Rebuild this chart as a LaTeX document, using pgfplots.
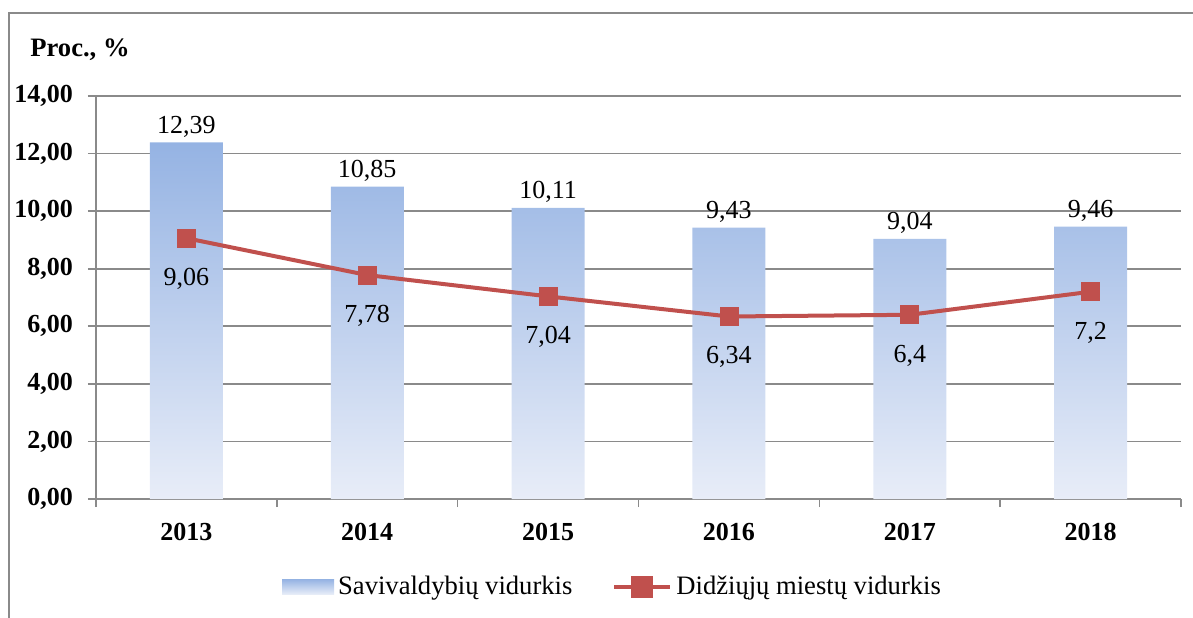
\documentclass[border=0pt]{standalone}
\usepackage{fontspec}
\setmainfont{Liberation Serif}
\usepackage{pgfplots}
\pgfplotsset{compat=1.18}
\definecolor{barTop}{HTML}{95B3E3}
\definecolor{barBot}{HTML}{E8EDF8}
\definecolor{lineRed}{HTML}{C0504D}
\definecolor{gridGray}{HTML}{8A8A8A}
\begin{document}
\begin{tikzpicture}
\path[use as bounding box] (-48pt,-59pt) rectangle (548.5pt,249.5pt);
% outer chart frame (cut off at right and bottom in the reference)
\draw[gridGray, line width=1pt] (-43.5pt,-60pt) -- (-43.5pt,243pt) -- (549pt,243pt);
\node[anchor=west, font=\fontsize{13.3}{15}\selectfont\bfseries, inner sep=0pt] at (-33pt,224.5pt) {Proc., \%};
\begin{axis}[
  at={(0pt,0pt)}, anchor=south west,
  scale only axis, width=542.5pt, height=201.5pt,
  xmin=-0.5, xmax=5.5, ymin=0, ymax=14,
  xtick={-0.5,0.5,...,5.5}, xticklabels={,,,,,,,},
  extra x ticks={0,1,2,3,4,5},
  extra x tick labels={2013,2014,2015,2016,2017,2018},
  extra x tick style={major tick length=0pt,
    tick label style={font=\fontsize{13}{15}\selectfont\bfseries, yshift=-8.5pt}},
  ytick={0,2,...,14},
  axis lines*=left,
  axis line style={gridGray, line width=0.8pt, -},
  ymajorgrids, grid style={gridGray, line width=0.8pt},
  tick style={gridGray, line width=0.8pt},
  tick align=outside, major tick length=4pt,
  yticklabel style={font=\fontsize{13}{15}\selectfont\bfseries, xshift=-4pt,
    /pgf/number format/.cd, fixed, fixed zerofill, precision=2, use comma, assume math mode=true},
  legend style={at={(0.477,-0.218)}, anchor=center, draw=none, fill=none,
    legend columns=2, font=\fontsize{13.3}{15}\selectfont,
    /tikz/every even column/.append style={column sep=18pt}},
  clip=false,
]
\addplot[ybar, bar width=36.5pt, draw=none, top color=barTop, bottom color=barBot,
  nodes near coords={\pgfmathprintnumber[use comma, assume math mode=true]{\pgfplotspointmeta}},
  every node near coord/.append style={black, font=\fontsize{13}{15}\selectfont, yshift=-1pt},
  legend image code/.code={\fill[top color=barTop, bottom color=barBot] (0pt,-3.75pt) rectangle (26pt,3.75pt);}]
  coordinates {(0,12.39) (1,10.85) (2,10.11) (3,9.43) (4,9.04) (5,9.46)};
\addlegendentry{Savivaldybių vidurkis}
\addplot[lineRed, line width=2pt, mark=square*, mark size=4.5pt,
  mark options={solid, fill=lineRed, line width=0.4pt},
  nodes near coords={\pgfmathprintnumber[use comma, assume math mode=true]{\pgfplotspointmeta}},
  nodes near coords align=below,
  every node near coord/.append style={black, font=\fontsize{13}{15}\selectfont, yshift=-11.5pt},
  legend image code/.code={\draw[lineRed, line width=2pt] (0pt,0pt) -- (28pt,0pt);
    \fill[lineRed] (9.5pt,-4.5pt) rectangle (18.5pt,4.5pt);}]
  coordinates {(0,9.06) (1,7.78) (2,7.04) (3,6.34) (4,6.4) (5,7.2)};
\addlegendentry{Didžiųjų miestų vidurkis}
\end{axis}
\end{tikzpicture}
\end{document}
